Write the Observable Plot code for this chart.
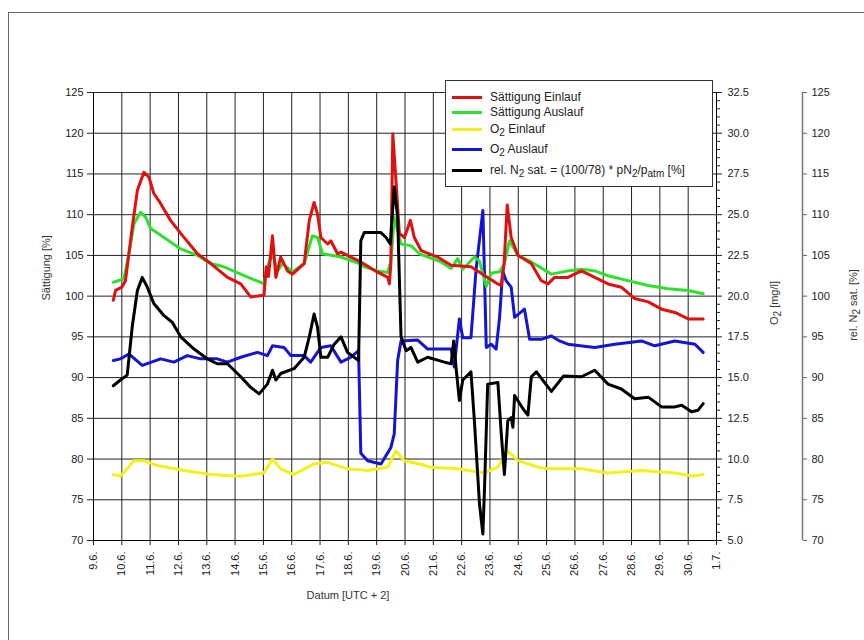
<!DOCTYPE html>
<html><head><meta charset="utf-8">
<script src="https://cdn.jsdelivr.net/npm/d3@7"></script>
<script src="https://cdn.jsdelivr.net/npm/@observablehq/plot@0.6"></script>
<style>
body{margin:0;background:#fff;overflow:hidden;font-family:"Liberation Sans",Arial,sans-serif;}
#wrap{position:relative;width:864px;height:640px;overflow:hidden;}
#frame{position:absolute;left:8px;top:12px;width:900px;height:700px;border-left:1px solid #666;border-top:1px solid #666;}
#chart{position:absolute;left:0;top:0;}
.rot{position:absolute;transform:translate(-50%,-50%) rotate(-90deg);white-space:nowrap;font-size:11px;color:#333;}
.rot sub,#legend sub{font-size:10px;vertical-align:-3px;line-height:0;}
#legend{position:absolute;left:445px;top:80px;width:266px;height:105px;border:1px solid #333;background:#fff;font-size:12px;color:#222;}
.row{position:absolute;left:0;height:16px;line-height:16px;white-space:nowrap;}
.sw{position:absolute;left:6px;top:7px;width:30px;height:3px;}
.lt{position:absolute;left:44px;top:0;}
</style></head>
<body>
<div id="wrap">
  <div id="frame"></div>
  <div id="chart"></div>
  <div class="rot" style="left:774px;top:303px;">O<sub>2</sub> [mg/l]</div>
  <div class="rot" style="left:853px;top:305px;">rel. N<sub>2</sub> sat. [%]</div>
  <div id="legend"></div>
</div>
<script>
// ---- data (days = day of June, 31 = 1 July) ----
const redDays = [9.70,9.78,10.00,10.13,10.37,10.55,10.78,10.96,11.13,11.31,11.72,12.08,12.67,13.14,13.73,14.20,14.55,15.02,15.10,15.18,15.32,15.44,15.61,15.85,16.03,16.44,16.62,16.79,16.91,17.03,17.27,17.38,17.62,17.74,18.09,18.44,19.00,19.39,19.45,19.50,19.57,19.68,19.80,19.98,20.19,20.33,20.57,21.15,21.63,22.33,22.92,23.28,23.40,23.50,23.61,23.75,23.99,24.46,24.81,25.05,25.28,25.75,26.23,26.70,27.17,27.64,28.11,28.59,29.06,29.53,30.00,30.53];
const redVals = [99.5,100.7,101.1,101.9,108.5,113.0,115.2,114.6,112.6,111.7,109.3,107.7,105.2,104.0,102.3,101.5,99.9,100.1,103.6,102.4,107.4,102.3,104.8,103.1,102.7,104.0,109.3,111.5,110.1,107.2,106.4,106.8,105.2,105.4,104.8,104.2,103.0,102.3,101.5,104.0,119.9,114.2,107.7,107.2,109.3,107.2,105.6,104.8,103.8,103.6,102.3,101.5,101.3,104.0,111.2,107.2,105.0,104.0,101.9,101.5,102.3,102.3,103.1,102.3,101.5,101.1,99.7,99.3,98.4,98.0,97.2,97.2];

const greenDays = [9.70,10.07,10.25,10.43,10.66,10.84,11.02,11.49,12.08,12.67,13.14,13.61,14.20,15.02,15.14,15.32,15.50,15.67,16.03,16.44,16.73,16.91,17.09,17.74,18.39,18.56,19.04,19.39,19.50,19.62,19.86,20.21,20.51,21.27,21.63,21.86,22.04,22.45,22.63,22.87,23.04,23.34,23.51,23.69,23.99,24.46,25.17,25.75,26.23,26.70,27.17,27.87,28.59,29.30,30.00,30.53];
const greenVals = [101.7,102.1,105.2,108.9,110.3,109.7,108.3,107.2,105.8,105.0,104.0,103.6,102.7,101.5,103.6,105.2,103.1,104.0,103.0,104.0,107.4,107.2,105.2,104.8,104.0,103.6,103.1,102.9,104.3,109.7,106.4,106.2,105.2,104.2,103.4,104.6,103.3,104.8,104.3,101.2,102.8,103.0,104.0,106.8,105.0,104.2,102.7,103.1,103.3,103.1,102.5,101.9,101.3,100.9,100.7,100.3];

// O2 in mg/l
const yellowDays = [9.70,9.95,10.43,10.78,11.25,12.20,13.14,14.20,15.02,15.32,15.61,16.08,16.79,17.27,17.97,18.68,19.39,19.68,19.98,20.51,20.92,21.86,22.81,23.28,23.63,23.99,24.70,25.05,26.23,27.17,28.35,29.53,30.12,30.53];
const yellowVals = [9.05,8.95,9.9,9.9,9.6,9.3,9.05,8.95,9.15,10.0,9.4,9.05,9.7,9.8,9.4,9.3,9.5,10.5,9.9,9.7,9.5,9.4,9.15,9.5,10.5,9.9,9.5,9.4,9.4,9.15,9.3,9.15,8.95,9.05];

const blueDays = [9.70,9.95,10.25,10.72,11.37,11.84,12.31,12.78,13.37,13.73,14.20,14.79,15.14,15.32,15.73,15.97,16.44,16.67,17.03,17.38,17.74,18.09,18.36,18.44,18.68,19.15,19.50,19.62,19.74,19.86,20.45,20.80,21.63,21.74,21.92,22.04,22.33,22.51,22.75,22.87,23.04,23.22,23.34,23.45,23.57,23.75,23.87,24.22,24.40,24.81,25.17,25.46,25.75,26.70,27.41,28.35,28.82,29.53,30.24,30.53];
const blueVals = [16.05,16.15,16.45,15.75,16.15,15.95,16.35,16.15,16.15,15.95,16.25,16.55,16.35,16.95,16.85,16.35,16.35,15.95,16.85,16.95,15.95,16.25,16.65,10.35,9.9,9.7,10.7,11.55,16.05,17.25,17.3,16.75,16.75,15.65,18.6,17.45,17.45,21.65,25.25,16.85,17.05,16.75,18.7,21.55,20.95,20.55,18.7,19.2,17.35,17.35,17.55,17.25,17.05,16.85,17.05,17.25,16.95,17.25,17.05,16.55];

// rel. N2 saturation in %
const blackDays = [9.70,9.95,10.19,10.37,10.55,10.72,10.90,11.13,11.49,11.78,12.08,12.55,13.02,13.37,13.73,14.20,14.55,14.85,15.14,15.32,15.44,15.61,16.08,16.44,16.62,16.79,16.91,17.03,17.27,17.50,17.74,17.97,18.36,18.44,18.56,19.15,19.33,19.48,19.62,19.74,19.86,20.04,20.21,20.45,20.80,21.39,21.63,21.72,21.80,21.92,22.04,22.33,22.45,22.63,22.75,22.81,22.92,23.28,23.40,23.51,23.63,23.75,23.81,23.87,24.16,24.34,24.46,24.64,25.17,25.60,26.23,26.70,27.17,27.64,28.11,28.59,29.06,29.53,29.77,30.12,30.35,30.53];
const blackVals = [89.0,89.7,90.3,96.3,100.7,102.3,101.1,99.1,97.6,96.8,95.0,93.5,92.3,91.7,91.7,90.1,88.8,88.0,89.2,90.9,89.7,90.5,91.1,92.5,95.0,97.8,96.2,92.5,92.5,94.1,95.0,93.1,92.1,106.8,107.8,107.8,107.2,106.4,113.4,109.7,95.0,93.3,93.7,91.9,92.5,91.9,91.7,94.5,91.3,87.2,89.7,90.7,84.7,74.5,70.8,76.6,89.2,89.4,83.1,78.1,84.7,85.1,83.9,87.8,86.2,85.4,90.1,90.7,88.3,90.2,90.1,90.9,89.2,88.6,87.4,87.6,86.4,86.4,86.6,85.8,86.0,86.8];

const satTicks = [70,75,80,85,90,95,100,105,110,115,120,125];
const o2Ticks = [5.0,7.5,10.0,12.5,15.0,17.5,20.0,22.5,25.0,27.5,30.0,32.5];
const n2Ticks = [70,75,80,85,90,95,100,105,110,115,120,125];
const dayTicks = d3.range(9, 32);
const dayLabels = ["9.6.","10.6.","11.6.","12.6.","13.6.","14.6.","15.6.","16.6.","17.6.","18.6.","19.6.","20.6.","21.6.","22.6.","23.6.","24.6.","25.6.","26.6.","27.6.","28.6.","29.6.","30.6.","1.7."];

const seriesNames = ["Sättigung Einlauf","Sättigung Auslauf","O2 Einlauf","O2 Auslauf","rel. N2 sat."];
const seriesColors = ["#e01010","#2ee02e","#f2f21a","#1414d2","#000000"];
const legendHTML = ["Sättigung Einlauf","Sättigung Auslauf","O<sub>2</sub> Einlauf","O<sub>2</sub> Auslauf","rel. N<sub>2</sub> sat. = (100/78) * pN<sub>2</sub>/p<sub>atm</sub> [%]"];

// O2 axis (5..32.5 mg/l) shares the frame with Sättigung axis (70..125 %)
const o2ToSat = v => 70 + (v - 5) * 2;

const table = [];
const add = (name, days, vals, f) => days.forEach((d, i) => table.push({name, day: d, v: f ? f(vals[i]) : vals[i]}));
add(seriesNames[2], yellowDays, yellowVals, o2ToSat);
add(seriesNames[3], blueDays, blueVals, o2ToSat);
add(seriesNames[1], greenDays, greenVals);
add(seriesNames[0], redDays, redVals);
add(seriesNames[4], blackDays, blackVals);

const o2Minor = d3.range(5, 32.51, 0.5).filter(v => Math.abs(v / 2.5 - Math.round(v / 2.5)) > 1e-6).map(o2ToSat);

const chart = Plot.plot({
  width: 864, height: 640,
  marginLeft: 93, marginRight: 148, marginTop: 92, marginBottom: 100,
  x: {domain: [9, 31]},
  y: {domain: [70, 125]},
  color: {domain: seriesNames, range: seriesColors},
  style: {fontFamily: '"Liberation Sans", Arial, sans-serif', fontSize: "11px", color: "#222", background: "transparent", overflow: "visible"},
  marks: [
    Plot.gridY(satTicks, {stroke: "#222", strokeOpacity: 1}),
    Plot.gridX(dayTicks, {stroke: "#222", strokeOpacity: 1}),
    Plot.axisY(satTicks, {anchor: "left", tickSize: 6, tickPadding: 4, label: null}),
    Plot.axisX(dayTicks, {anchor: "bottom", tickSize: 5, tickPadding: 6, tickRotate: -90, tickFormat: d => dayLabels[d - 9], label: null}),
    Plot.axisY(o2Minor, {anchor: "right", tickSize: 3, tickFormat: () => "", label: null}),
    Plot.axisY(o2Ticks.map(o2ToSat), {anchor: "right", tickSize: 5, tickPadding: 6, tickFormat: v => ((v - 70) / 2 + 5).toFixed(1), label: null}),
    Plot.axisY(n2Ticks, {anchor: "right", dx: 86, tickSize: 4, tickPadding: 5, stroke: "#666", label: null}),
    Plot.ruleX([31], {dx: 86, stroke: "#777", strokeWidth: 1.5}),
    Plot.ruleX([9, 31], {stroke: "#000"}),
    Plot.ruleY([70], {stroke: "#000"}),
    Plot.line(table, {x: "day", y: "v", z: "name", stroke: "name", strokeWidth: 3, strokeLinejoin: "round", curve: "linear"}),
    Plot.text(["Sättigung [%]"], {frameAnchor: "left", dx: -47, dy: -16, rotate: -90, text: d => d, fontSize: 11, fill: "#333"}),
    Plot.text(["Datum [UTC + 2]"], {frameAnchor: "bottom", dx: -57, dy: 58, text: d => d, fontSize: 11, fill: "#333"})
  ]
});
document.getElementById("chart").appendChild(chart);

// legend
const lg = document.getElementById("legend");
const rowCenters = [15.5, 30.5, 48, 68, 89];
legendHTML.forEach((h, i) => {
  const r = document.createElement("div");
  r.className = "row";
  r.style.top = (rowCenters[i] - 8) + "px";
  r.innerHTML = `<div class="sw" style="background:${seriesColors[i]}"></div><div class="lt">${h}</div>`;
  lg.appendChild(r);
});
</script>
</body></html>
